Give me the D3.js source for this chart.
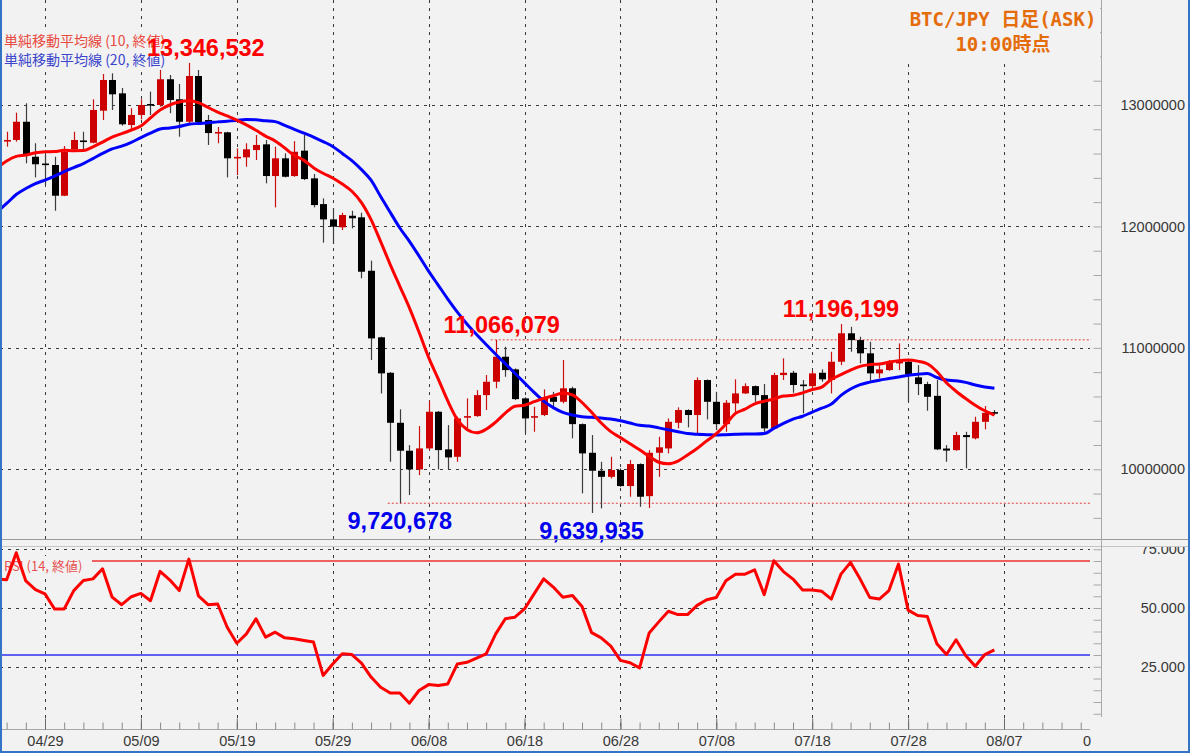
<!DOCTYPE html>
<html>
<head>
<meta charset="utf-8">
<script src="https://cdn.jsdelivr.net/npm/d3@7"></script>
<style>
  body { margin: 0; background: #f2f2f2; }
  svg { display: block; font-family: "Liberation Sans", Arial, "Noto Sans CJK JP", sans-serif; }
</style>
</head>
<body>
<div id="chart"></div>
<script>
// 日足 OHLC (千円), 04/25 - 08/06
const open = [12699,12712,12862,12574,12518,12506,12253,12635,12708,12689,12953,13206,13096,12835,12918,13008,13000,13212,13047,12862,
  13239,12876,12767,12775,12563,12569,12629,12676,12415,12561,12415,12624,12396,12184,12058,11993,12088,12075,11635,11087,
  10795,10383,10153,9999,10172,10474,10164,10103,10426,10438,10611,10721,10927,10823,10584,10426,10447,10597,10556,10667,
  10372,10136,9988,9938,9994,9862,10043,9779,10136,10172,10383,10488,10447,10735,10556,10372,10543,10625,10685,10611,
  10337,10776,10795,10698,10685,10795,10735,10886,11120,11064,10955,10790,10817,10872,10886,10757,10702,10605,10171,10158,
  10282,10255,10391,10471];
const high = [12780,12937,13014,12685,12588,12574,12662,12780,12780,13047,13255,13261,13140,12973,13047,13110,13288,13247,13173,13346.532,
  13288,12918,12819,12780,12643,12685,12753,12712,12657,12602,12703,12753,12432,12231,12149,12113,12129,12113,11718,11092,
  10800,10494,10199,10356,10564,10480,10364,10433,10584,10652,10776,11066.079,11009,10831,10592,10515,10658,10638,10900,10680,
  10378,10282,10062,10103,10008,10076,10049,10158,10268,10419,10510,10494,10757,10740,10638,10570,10741,10708,10690,10702,
  10795,10914,10811,10735,10811,10823,10968,11196.199,11174,11092,11050,10858,10900,11037,10900,10858,10721,10735,10199,10309,
  10309,10433,10521,10488];
const low = [12657,12698,12520,12404,12341,12129,12250,12629,12635,12685,12876,12959,12830,12802,12882,12918,12986,12932,12739,12849,
  12849,12671,12685,12404,12423,12492,12547,12355,12157,12404,12409,12382,12157,11866,11855,11970,11984,11573,10900,10625,
  10062,9720.678,9788,9952,10158,9999,9999,10062,10337,10433,10488,10667,10762,10570,10296,10309,10438,10515,10543,10255,
  9802,9639.935,9678,9925,9856,9774,9691,9681,9938,10131,10337,10345,10296,10411,10323,10309,10447,10620,10556,10309,
  10330,10735,10630,10461,10652,10721,10625,10858,10968,10872,10721,10749,10811,10817,10556,10611,10482,10158,10062,10153,
  10008,10246,10329,10447];
const close = [12712,12862,12596,12512,12506,12253,12615,12712,12699,12959,13206,13088,12841,12918,13000,13000,13212,13041,12862,13239,
  12858,12769,12778,12561,12573,12635,12671,12415,12561,12409,12615,12390,12176,12058,11998,12094,12067,11627,11078,10790,
  10383,10153,9999,10172,10474,10158,10098,10419,10438,10611,10721,10927,10817,10578,10419,10438,10592,10556,10667,10372,
  10131,9988,9938,9994,9862,10043,9774,10136,10181,10391,10488,10447,10735,10556,10372,10548,10625,10685,10611,10337,
  10776,10795,10694,10690,10790,10741,10886,11120,11064,10955,10790,10823,10877,10900,10784,10702,10597,10164,10154,10282,
  10265,10391,10465,10459];

// 単純移動平均線 (千円), RSI — 04/24 - 08/06
const sma10 = [12481,12539,12577,12588,12606,12615,12617,12627,12624,12625,12656,12695,12736,12764,12794,12827,12894,12959,13000,13024,
  13034,13020,12980,12942,12910,12876,12836,12792,12744,12703,12646,12584,12544,12484,12438,12399,12349,12290,12196,12056,
  11875,11686,11507,11329,11130,10922,10745,10563,10409,10328,10300,10330,10389,10462,10520,10528,10557,10584,10606,10629,
  10613,10550,10469,10381,10310,10261,10211,10161,10107,10058,10046,10068,10118,10171,10234,10293,10372,10460,10495,10539,
  10561,10579,10603,10609,10629,10657,10677,10741,10780,10816,10848,10862,10867,10882,10895,10900,10891,10869,10805,10713,
  10643,10583,10528,10482,10447];
const sma20 = [12119,12189,12263,12312,12353,12382,12415,12452,12485,12518,12559,12601,12638,12662,12693,12732,12769,12802,12811,12823,
  12841,12848,12853,12861,12867,12873,12880,12878,12870,12863,12833,12800,12768,12736,12699,12659,12601,12542,12468,12381,
  12246,12116,11987,11877,11757,11632,11517,11402,11295,11197,11110,11028,10947,10869,10791,10712,10634,10561,10508,10469,
  10447,10433,10428,10422,10414,10400,10381,10362,10356,10341,10325,10310,10294,10288,10285,10282,10285,10288,10290,10290,
  10294,10337,10378,10413,10437,10471,10503,10537,10609,10661,10697,10718,10734,10747,10760,10774,10783,10788,10756,10735,
  10729,10716,10694,10678,10667];
const rsi14 = [62.3,62,73.5,61.5,57.8,56,49.6,49.6,57.4,61.7,62.4,66.7,54.6,51.4,54.8,56.2,53.1,65.6,62,57.4,
  70.8,55.2,51.4,51.7,41.8,35,39,45.4,37.6,39.7,37.3,36.9,36.2,35.5,21.3,26.2,30.5,30.2,26.5,20.6,
  16.3,13.8,13.8,9.5,14.9,17.4,17,17.7,26.2,26.9,28.7,30.5,39,45.4,46.1,49.6,56,62.4,58.9,54.6,
  55.3,50.6,39.5,37.3,33.8,27.7,26.7,24.5,39.4,44.1,48.6,47.2,47.2,51.1,53.5,54.5,61.6,64.4,64.4,66.2,
  55.7,70.1,65.5,62.3,57.7,57.7,57.1,53.8,64.4,69.4,62.3,54.5,53.8,57.4,68.7,49.1,46.8,46.4,34.8,30.2,
  36.5,29.8,25.2,30.2,32.2];

const tickLabels = ["04/29","05/09","05/19","05/29","06/08","06/18","06/28","07/08","07/18","07/28","08/07"];
const priceLabels = [10000000, 11000000, 12000000, 13000000];
const rsiLabels = [25, 50, 75];

const peakDates = ["05/14", "06/15", "07/21"];
const peakValues = [13346532, 11066079, 11196199];
const troughDates = ["06/05", "06/25"];
const troughValues = [9720678, 9639935];

const YEAR = 2024;
const parseDay = s => { const [m, d] = s.split("/").map(Number); return new Date(YEAR, m - 1, d); };
const lineDates = d3.timeDay.range(parseDay("04/24"), parseDay("08/07"));
const candleDates = lineDates.slice(1);

const candles = candleDates.map((d, i) => ({
  date: d, o: open[i] * 1000, h: high[i] * 1000, l: low[i] * 1000, c: close[i] * 1000
}));

const W = 1190, H = 753;
const BG = "#f2f2f2";
const plotR = 1091, axisX = 1101.5;
const pTop = 0, pBot = 539;
const rTop = 547, rBot = 729.5;

const svg = d3.select("#chart").append("svg")
  .attr("width", W).attr("height", H);

svg.append("rect").attr("width", W).attr("height", H).attr("fill", BG);

const x = d3.scaleTime()
  .domain([parseDay("04/29"), parseDay("08/07")])
  .range([45, 1004]);
const yP = d3.scaleLinear().domain([10000000, 13000000]).range([469.3, 105]);
const yR = d3.scaleLinear().domain([25, 50]).range([666.75, 608]);

const defs = svg.append("defs");
defs.append("clipPath").attr("id", "clipP")
  .append("rect").attr("x", 0).attr("y", pTop).attr("width", plotR).attr("height", pBot - pTop);
defs.append("clipPath").attr("id", "clipR")
  .append("rect").attr("x", 0).attr("y", rTop).attr("width", plotR).attr("height", rBot - rTop);
defs.append("clipPath").attr("id", "clipRL")
  .append("rect").attr("x", axisX).attr("y", rTop).attr("width", W - axisX).attr("height", rBot - rTop);

const tickDates = tickLabels.map(parseDay);

// grid
const grid = svg.append("g").attr("stroke", "#3a3a3a").attr("stroke-width", 1).attr("stroke-dasharray", "3,5");
grid.selectAll(".vp").data(tickDates).join("line")
  .attr("x1", d => Math.round(x(d)) + 0.5).attr("x2", d => Math.round(x(d)) + 0.5)
  .attr("y1", pTop).attr("y2", pBot);
grid.selectAll(".vr").data(tickDates).join("line")
  .attr("x1", d => Math.round(x(d)) + 0.5).attr("x2", d => Math.round(x(d)) + 0.5)
  .attr("y1", rTop).attr("y2", rBot);
grid.selectAll(".hp").data(priceLabels).join("line")
  .attr("x1", 0).attr("x2", 1090)
  .attr("y1", d => Math.round(yP(d)) + 0.5).attr("y2", d => Math.round(yP(d)) + 0.5);
grid.selectAll(".hr").data(rsiLabels).join("line")
  .attr("x1", 0).attr("x2", 1090)
  .attr("y1", d => Math.round(yR(d)) + 0.5).attr("y2", d => Math.round(yR(d)) + 0.5);

// high / low reference lines
const refs = [
  { date: parseDay(peakDates[1]), v: peakValues[1], dx: -5 },
  { date: parseDay(troughDates[0]), v: troughValues[0], dx: -12 }
];
svg.append("g").selectAll("line").data(refs).join("line")
  .attr("x1", d => x(d.date) + d.dx).attr("x2", 1091)
  .attr("y1", d => yP(d.v)).attr("y2", d => yP(d.v))
  .attr("stroke", "#e53a3a").attr("stroke-width", 1).attr("stroke-dasharray", "2,2");

// candles
const gc = svg.append("g").attr("clip-path", "url(#clipP)");
const up = d => d.c >= d.o;
gc.selectAll(".wick").data(candles).join("line")
  .attr("x1", d => Math.round(x(d.date)) + 0.5).attr("x2", d => Math.round(x(d.date)) + 0.5)
  .attr("y1", d => yP(d.h)).attr("y2", d => yP(d.l))
  .attr("stroke", d => up(d) ? "#cc1010" : "#3c3c3c").attr("stroke-width", 1.2);
gc.selectAll(".body").data(candles).join("rect")
  .attr("x", d => Math.round(x(d.date)) - 3)
  .attr("width", 7)
  .attr("y", d => Math.min(yP(d.o), yP(d.c)))
  .attr("height", d => Math.max(1.6, Math.abs(yP(d.o) - yP(d.c))))
  .attr("fill", d => up(d) ? "#cc0000" : "#000000");

// moving averages
const maLine = d3.line().x((d, i) => x(lineDates[i])).y(d => yP(d * 1000)).curve(d3.curveMonotoneX);
gc.append("path").datum(sma20).attr("d", maLine)
  .attr("fill", "none").attr("stroke", "#0000ff").attr("stroke-width", 3);
gc.append("path").datum(sma10).attr("d", maLine)
  .attr("fill", "none").attr("stroke", "#ff0000").attr("stroke-width", 3);

// legend
const legend = svg.append("g");
legend.append("rect").attr("x", 0).attr("y", 31).attr("width", 170).attr("height", 37).attr("fill", BG);
legend.selectAll("text").data([
  { t: "単純移動平均線 (10, 終値)", c: "#e84a40", y: 40 },
  { t: "単純移動平均線 (20, 終値)", c: "#3a44cc", y: 59 }
]).join("text")
  .attr("x", 4).attr("y", d => d.y).attr("dominant-baseline", "central")
  .attr("font-family", "'Noto Sans CJK JP', sans-serif").attr("font-size", 14)
  .attr("fill", d => d.c).text(d => d.t);

// high / low labels
const fmt = d3.format(",");
const notes = [
  ...peakDates.map((s, i) => ({ date: parseDay(s), v: peakValues[i], color: "#ff0000", dy: -15, dx: [17, 6, 0][i] })),
  ...troughDates.map((s, i) => ({ date: parseDay(s), v: troughValues[i], color: "#0000ee", dy: 18, dx: 0 }))
];
svg.append("g").selectAll("text").data(notes).join("text")
  .attr("x", d => x(d.date) + d.dx).attr("y", d => yP(d.v) + d.dy)
  .attr("text-anchor", "middle").attr("dominant-baseline", "central")
  .attr("font-size", 23.5).attr("font-weight", "bold")
  .attr("fill", d => d.color).text(d => fmt(d.v));

// separator
svg.append("line").attr("x1", 0).attr("x2", W).attr("y1", 539.5).attr("y2", 539.5).attr("stroke", "#9a9a9a");
svg.append("line").attr("x1", 0).attr("x2", W).attr("y1", 546.5).attr("y2", 546.5).attr("stroke", "#c4c4c4");

// RSI panel
const gr = svg.append("g").attr("clip-path", "url(#clipR)");
gr.append("line").attr("x1", 0).attr("x2", 1090).attr("y1", yR(70)).attr("y2", yR(70))
  .attr("stroke", "#f06262").attr("stroke-width", 2);
gr.append("line").attr("x1", 0).attr("x2", 1090).attr("y1", yR(30)).attr("y2", yR(30))
  .attr("stroke", "#3030f0").attr("stroke-width", 1.5);
gr.append("rect").attr("x", 2).attr("y", 556).attr("width", 90).attr("height", 19).attr("fill", BG);
gr.append("text").attr("x", 4).attr("y", 565).attr("dominant-baseline", "central")
  .attr("font-family", "'Noto Sans CJK JP', sans-serif").attr("font-size", 13)
  .attr("fill", "#e85050").text("RSI (14, 終値)");
gr.append("path").datum(rsi14)
  .attr("d", d3.line().x((d, i) => x(lineDates[i])).y(d => yR(d)))
  .attr("fill", "none").attr("stroke", "#ff0000").attr("stroke-width", 3).attr("stroke-linejoin", "round");

// right axes
svg.append("line").attr("x1", axisX).attr("x2", axisX).attr("y1", 0).attr("y2", 717).attr("stroke", "#a8a8a8");
svg.append("g").attr("transform", `translate(${axisX},0)`)
  .call(d3.axisLeft(yP).tickValues(d3.range(9600000, 13800001, 200000)).tickSize(8).tickFormat(""))
  .call(g => g.select(".domain").remove())
  .call(g => g.selectAll("line").attr("stroke", "#a8a8a8"));
svg.append("g").attr("transform", `translate(${axisX},0)`)
  .call(d3.axisLeft(yR).tickValues(d3.range(5, 76, 5)).tickSize(8).tickFormat(""))
  .call(g => g.select(".domain").remove())
  .call(g => g.selectAll("line").attr("stroke", "#a8a8a8"));

const styleLabels = g => {
  g.select(".domain").remove();
  g.attr("font-family", "'Liberation Sans', Arial, sans-serif").attr("font-size", 14.5);
  g.selectAll("text").attr("fill", "#383838");
};
svg.append("g").attr("transform", "translate(1185,0)")
  .call(d3.axisLeft(yP).tickValues(priceLabels).tickSize(0).tickPadding(0).tickFormat(d3.format("d")))
  .call(styleLabels);
svg.append("g").attr("clip-path", "url(#clipRL)")
  .append("g").attr("transform", "translate(1185,0)")
  .call(d3.axisLeft(yR).tickValues(rsiLabels).tickSize(0).tickPadding(0).tickFormat(d3.format(".3f")))
  .call(styleLabels);

// bottom time axis
svg.append("line").attr("x1", 0).attr("x2", 1090).attr("y1", rBot).attr("y2", rBot).attr("stroke", "#a8a8a8");
svg.append("g").attr("transform", `translate(0,${rBot})`)
  .call(d3.axisTop(x).tickValues(d3.timeDay.range(parseDay("04/25"), parseDay("08/16"), 2)).tickSize(7).tickFormat(""))
  .call(g => g.select(".domain").remove())
  .call(g => g.selectAll("line").attr("stroke", "#8a8a8a"));
svg.append("g").attr("transform", `translate(0,${rBot})`)
  .call(d3.axisTop(x).tickValues(tickDates).tickSize(11).tickFormat(""))
  .call(g => g.select(".domain").remove())
  .call(g => g.selectAll("line").attr("stroke", "#6a6a6a"));
svg.append("g").attr("transform", `translate(0,${rBot})`)
  .call(d3.axisBottom(x).tickValues(tickDates).tickSize(0).tickPadding(6).tickFormat(d3.timeFormat("%m/%d")))
  .call(styleLabels);
svg.append("text").attr("x", 1087).attr("y", 741).attr("text-anchor", "middle").attr("dominant-baseline", "central")
  .attr("font-size", 14.5).attr("fill", "#383838").text("0");

// title (its box hides the grid and axis ticks behind it)
svg.append("rect").attr("x", 905).attr("y", 0).attr("width", 195).attr("height", 62).attr("fill", BG);
svg.append("g").selectAll("text").data(["BTC/JPY 日足(ASK)", "10:00時点"]).join("text")
  .attr("x", 1003).attr("y", (d, i) => 19 + i * 25)
  .attr("text-anchor", "middle").attr("dominant-baseline", "central")
  .attr("font-family", "'DejaVu Sans Mono', 'Noto Sans CJK JP', monospace")
  .attr("font-size", 19).attr("font-weight", "bold").attr("fill", "#e46c0a")
  .text(d => d);

// frame
svg.append("path").attr("d", `M1,0V${H - 1}H${W - 1}V0`)
  .attr("fill", "none").attr("stroke", "#3374c4").attr("stroke-width", 2);
</script>
</body>
</html>
